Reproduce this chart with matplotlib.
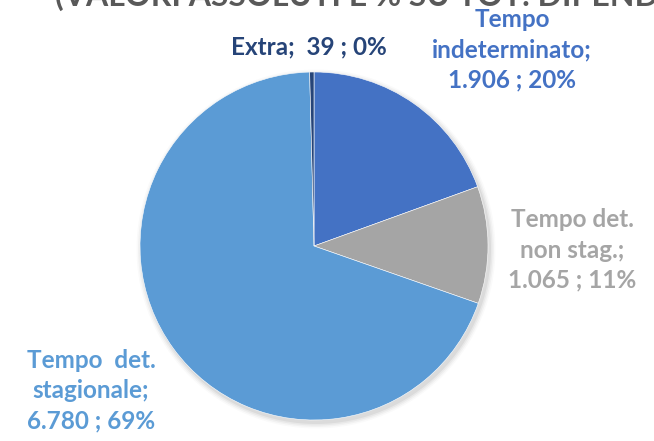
import matplotlib
matplotlib.use("Agg")
import matplotlib.pyplot as plt
from matplotlib.patches import Circle

categories = ["Tempo\nindeterminato", "Tempo det.\nnon stag.", "Tempo  det.\nstagionale", "Extra"]
values = [1906, 1065, 6780, 39]
value_labels = ["1.906", "1.065", "6.780", "39"]
pct_labels = ["20%", "11%", "69%", "0%"]
colors = ["#4472C4", "#A5A5A5", "#5B9BD5", "#264478"]
title = "(VALORI ASSOLUTI E % SU TOT. DIPENDENTI)"

W, H = 654, 441
fig = plt.figure(figsize=(W / 100, H / 100), dpi=100)
ax = fig.add_axes([0, 0, 1, 1])

cx, cy, r = 314, H - 246, 174

# soft shadow
for i, a in enumerate([0.05, 0.04, 0.03, 0.02]):
    ax.add_patch(Circle((cx + 2, cy - 3), r + 1 + i * 1.5, color="black", alpha=a, lw=0, zorder=0))

ax.pie(values, colors=colors, startangle=90, counterclock=False,
       center=(cx, cy), radius=r, frame=True,
       wedgeprops=dict(linewidth=0.4, edgecolor="white"))
ax.set_xlim(0, W)
ax.set_ylim(0, H)
ax.set_aspect("equal")
ax.axis("off")

font = "Lato"
label_pos = [(512, H - 50), (572, H - 250), (91, H - 391), (309, H - 47)]
for i, (cat, val, pct) in enumerate(zip(categories, value_labels, pct_labels)):
    if cat == "Extra":
        txt = f"{cat};  {val} ; {pct}"
    else:
        txt = f"{cat};\n{val} ; {pct}"
    x, y = label_pos[i]
    ax.text(x, y, txt, ha="center", va="center", fontsize=17.5, fontweight="bold",
            color=colors[i], family=font, linespacing=1.37, multialignment="center")

ax.text(55, H - 6, title, ha="left", va="baseline", fontsize=23, fontweight="bold",
        color="#595959", family=font)

fig.savefig("out.png", dpi=100)
